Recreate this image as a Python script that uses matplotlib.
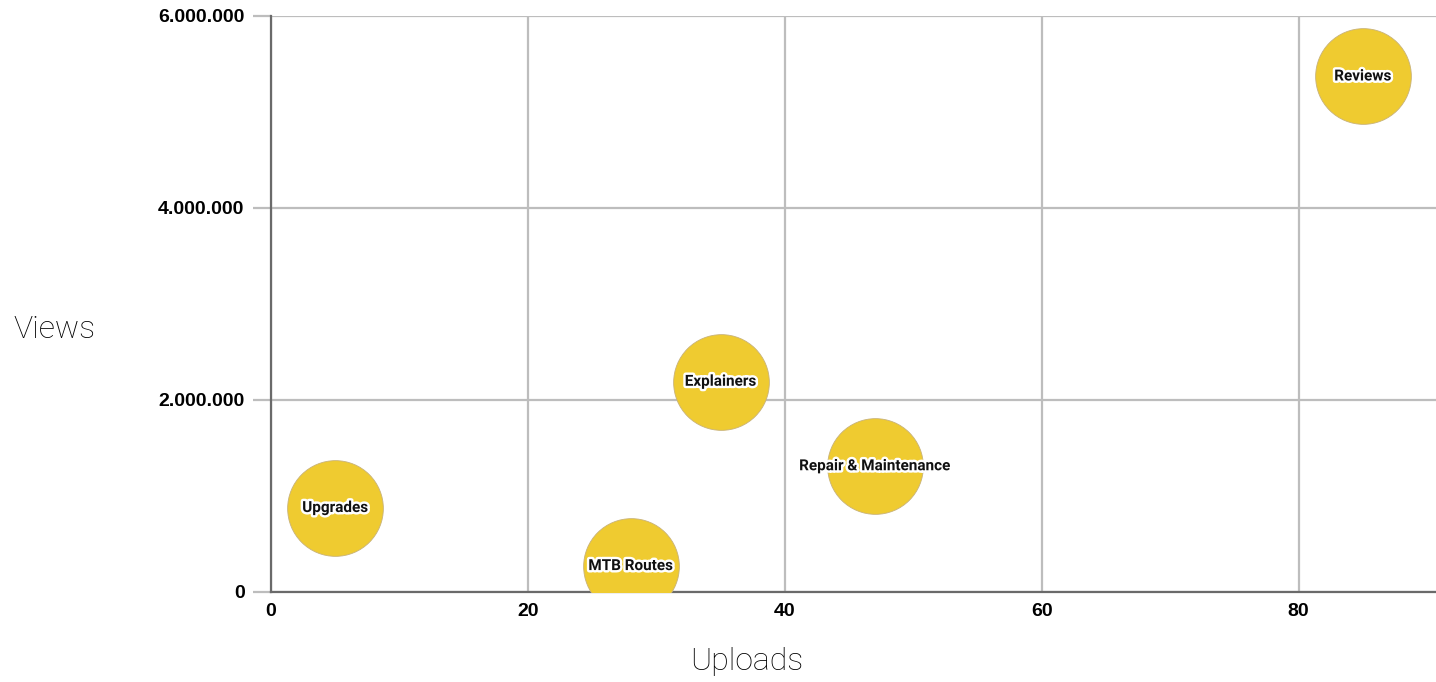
import matplotlib.pyplot as plt
import matplotlib.patheffects as pe
from matplotlib.ticker import FuncFormatter

categories = ["Reviews", "Explainers", "Repair & Maintenance", "Upgrades", "MTB Routes"]
uploads = [85, 35, 47, 5, 28]
views = [5370000, 2190000, 1310000, 875000, 270000]

x_ticks = [0, 20, 40, 60, 80]
y_ticks = [0, 2000000, 4000000, 6000000]

fig = plt.figure(figsize=(14.36, 6.82), dpi=100)
ax = fig.add_axes([271 / 1436, 90 / 682, 1 - 271 / 1436, 576 / 682])

ax.scatter(uploads, views, s=4750, color="#efcb30", edgecolors="#c8b27a",
           linewidths=0.6, zorder=3)
for name, x, y in zip(categories, uploads, views):
    ax.text(x, y, name, ha="center", va="center", fontsize=11, fontweight="bold",
            family="Roboto", color="#111111", zorder=4,
            path_effects=[pe.withStroke(linewidth=3.5, foreground="white")])

ax.set_xlim(0, 90.7)
ax.set_ylim(0, 6000000)
ax.set_xticks(x_ticks)
ax.set_yticks(y_ticks)
ax.yaxis.set_major_formatter(FuncFormatter(lambda v, p: f"{int(v):,}".replace(",", ".")))

ax.grid(True, color="#bdbdbd", linewidth=1.6, zorder=0)
ax.set_axisbelow(True)
for s in ["top", "right"]:
    ax.spines[s].set_visible(False)
ax.spines["left"].set_color("#6a6a6a")
ax.spines["left"].set_linewidth(1.6)
ax.spines["bottom"].set_color("#6a6a6a")
ax.spines["bottom"].set_linewidth(1.6)

ax.tick_params(axis="y", length=13, width=1.6, color="#bdbdbd", pad=6)
ax.tick_params(axis="x", length=0, pad=8)
ax.yaxis.get_major_ticks()[0].tick1line.set_color("#6a6a6a")
for lbl in ax.get_xticklabels() + ax.get_yticklabels():
    lbl.set_fontweight("bold")
    lbl.set_fontsize(14)
    lbl.set_family("Liberation Sans")

fig.text(747 / 1436, 1 - 662 / 682, "Uploads", ha="center", va="center",
         fontsize=23, family="Roboto", fontweight="light", color="#000000")
fig.text(55 / 1436, 1 - 330 / 682, "Views", ha="center", va="center",
         fontsize=23, family="Roboto", fontweight="light", color="#000000")

fig.savefig("out.png", dpi=100)
